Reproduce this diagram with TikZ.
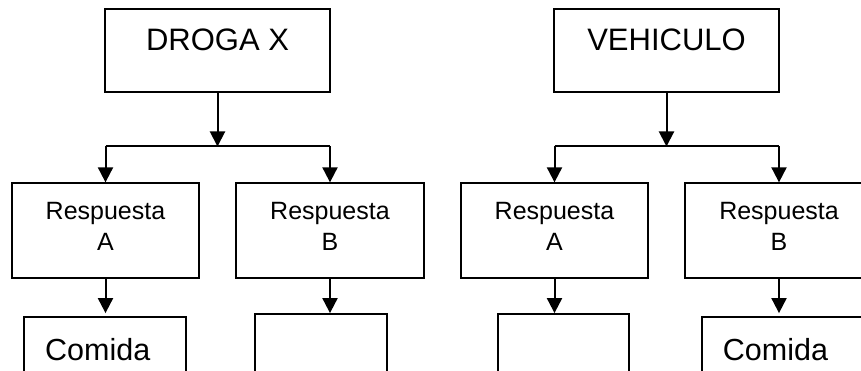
\documentclass[tikz,border=0pt]{standalone}
\usepackage{fontspec}
\setmainfont{Liberation Sans}
\usetikzlibrary{arrows.meta}
\begin{document}
\begin{tikzpicture}[x=1pt,y=-1pt,
  box/.style={draw=black,line width=1.8pt,rectangle,inner sep=0pt,minimum width=#1},
  conn/.style={line width=2pt,-{Triangle[length=15pt,width=15pt]}},
  link/.style={line width=2pt},
  title/.style={anchor=base,inner sep=0pt,font=\fontsize{31}{31}\selectfont},
  answer/.style={anchor=base,inner sep=0pt,font=\fontsize{25}{31}\selectfont},
  food/.style={anchor=base west,inner sep=0pt,font=\fontsize{30.5}{31}\selectfont}]
\useasboundingbox (0,0) rectangle (861,371);
\clip (0,0) rectangle (861,371);

% ---- left tree: DROGA X ----
\node[box=225pt,minimum height=83pt] (drug) at (217.5,50.7) {};
\node[title] (drugtxt) at (217.5,51) {DROGA X};
\node[box=187.6pt,minimum height=94.5pt] (lA) at (105.5,230.5) {};
\node[answer] (lAtxt1) at (105.5,220) {Respuesta};
\node[answer] (lAtxt2) at (105.5,250.7) {A};
\node[box=188pt,minimum height=94.5pt] (lB) at (330,230.5) {};
\node[answer] (lBtxt1) at (330,220) {Respuesta};
\node[answer] (lBtxt2) at (330,250.7) {B};
\node[box=162pt,minimum height=100pt] (lC) at (105,367) {};
\node[food] (lCtxt) at (45,360) {Comida};
\node[box=131.7pt,minimum height=100pt] (lD) at (320.8,364) {};
\coordinate (lJ) at (217.5,146.5);

\draw[conn] (drug.south) -- (lJ);
\draw[link] (lA.north |- lJ) -- (lB.north |- lJ);
\draw[conn] (lA.north |- lJ) -- (lA.north);
\draw[conn] (lB.north |- lJ) -- (lB.north);
\draw[conn,shorten >=3pt] (lA.south) -- (lA.south |- lC.north);
\draw[conn] (lB.south) -- (lB.south |- lD.north);

% ---- right tree: VEHICULO ----
\node[box=225pt,minimum height=83pt] (veh) at (666.5,50.7) {};
\node[title] (vehtxt) at (666.5,51) {VEHICULO};
\node[box=187.6pt,minimum height=94.5pt] (rA) at (554.5,230.5) {};
\node[answer] (rAtxt1) at (554.5,220) {Respuesta};
\node[answer] (rAtxt2) at (554.5,250.7) {A};
\node[box=188pt,minimum height=94.5pt] (rB) at (779,230.5) {};
\node[answer] (rBtxt1) at (779,220) {Respuesta};
\node[answer] (rBtxt2) at (779,250.7) {B};
\node[box=131pt,minimum height=100pt] (rC) at (563.5,364) {};
\node[box=162pt,minimum height=100pt] (rD) at (782.7,367) {};
\node[food] (rDtxt) at (722.7,360) {Comida};
\coordinate (rJ) at (666.5,146.5);

\draw[conn] (veh.south) -- (rJ);
\draw[link] (rA.north |- rJ) -- (rB.north |- rJ);
\draw[conn] (rA.north |- rJ) -- (rA.north);
\draw[conn] (rB.north |- rJ) -- (rB.north);
\draw[conn] (rA.south) -- (rA.south |- rC.north);
\draw[conn,shorten >=3pt] (rB.south) -- (rB.south |- rD.north);
\end{tikzpicture}
\end{document}
